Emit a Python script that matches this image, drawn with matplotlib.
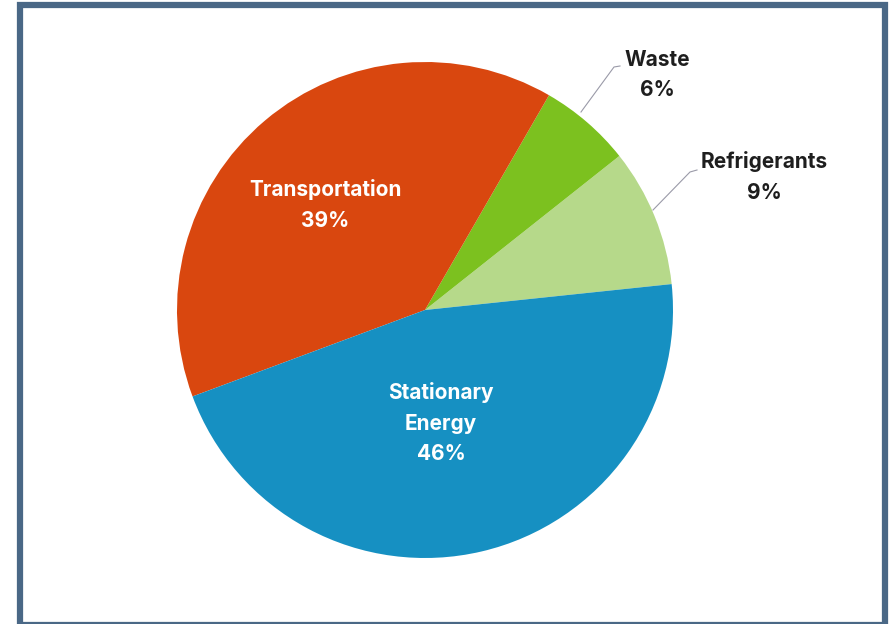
import matplotlib.pyplot as plt
from matplotlib.patches import Rectangle

# Emissions share by sector
sectors = ["Refrigerants", "Waste", "Transportation", "Stationary Energy"]
shares = [9, 6, 39, 46]
colors = ["#b6d98a", "#7cc11f", "#d9470f", "#1690c2"]

W, H = 891, 624
fig = plt.figure(figsize=(W / 100, H / 100), dpi=100)
ax = fig.add_axes([0, 0, 1, 1])

cx, cy, r = 425, H - 310, 248
ax.pie(shares, colors=colors, startangle=6.0, counterclock=True,
       center=(cx, cy), radius=r, frame=True,
       wedgeprops=dict(linewidth=0))
ax.set_xlim(0, W)
ax.set_ylim(0, H)
ax.set_aspect("equal")
ax.axis("off")

font = dict(family=["Inter", "DejaVu Sans"], fontweight="bold", fontsize=15)
ls = 1.65

# labels inside the large slices
ax.text(325, H - 205, "Transportation\n39%", color="white", ha="center",
        va="center", linespacing=ls, **font)
ax.text(441, H - 423, "Stationary\nEnergy\n46%", color="white", ha="center",
        va="center", linespacing=ls, **font)

# labels outside the small slices with leader lines
line_kw = dict(color="#9a9aa8", lw=0.8)
ax.plot([581, 614, 620], [H - 112, H - 67, H - 66], **line_kw)
ax.text(657, H - 75, "Waste\n6%", color="#1e1e1e", ha="center",
        va="center", linespacing=ls, **font)
ax.plot([653, 690, 697], [H - 210, H - 172, H - 170], **line_kw)
ax.text(764, H - 177, "Refrigerants\n9%", color="#1e1e1e", ha="center",
        va="center", linespacing=ls, **font)

# outer frame
ax.add_patch(Rectangle((20, -1), 865, H - 4.5 + 1, fill=False,
                       edgecolor="#4a6886", lw=4.5, clip_on=False))

fig.savefig("out.png", dpi=100)
